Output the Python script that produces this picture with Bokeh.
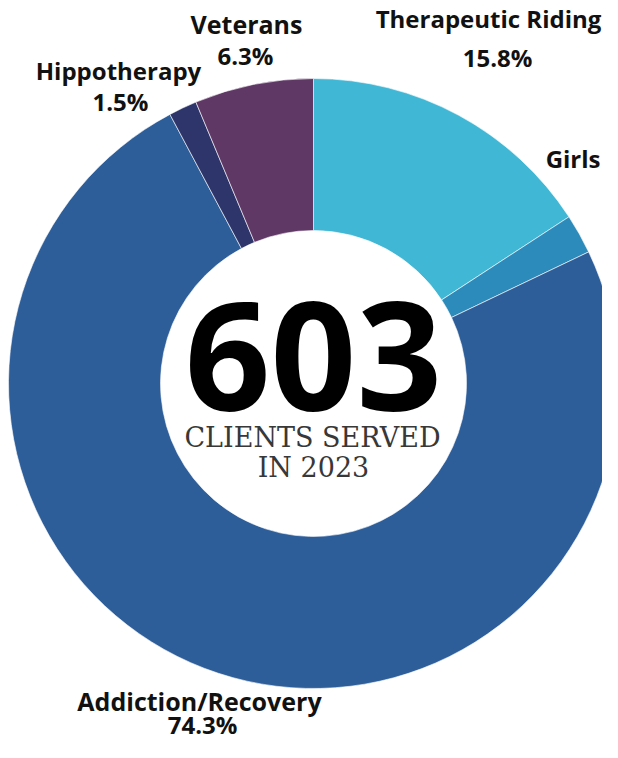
import math
from bokeh.plotting import figure
from bokeh.models import Range1d, ColumnDataSource
from bokeh.core.properties import value
from bokeh.embed import file_html
from bokeh.resources import INLINE

# ---- data ----
categories = ["Therapeutic Riding", "Girls", "Addiction/Recovery", "Hippotherapy", "Veterans"]
percents = [15.8, 2.1, 74.3, 1.5, 6.3]
total_clients = 603
year = 2023

palette = ["#41B7D6", "#2C8BBA", "#2E5E99", "#2D356B", "#5F3866"]

# ---- figure: data units == picture pixels (y negated) ----
W, H = 602, 742
p = figure(width=W, height=H, x_range=Range1d(0, W), y_range=Range1d(-H, 0),
           output_backend="svg", toolbar_location=None, min_border=0)
p.axis.visible = False
p.grid.visible = False
p.outline_line_color = None
p.background_fill_color = "white"
p.border_fill_color = "white"

cx, cy = 313, -383
r_out, r_in = 305, 153

total = sum(percents)
starts, ends = [], []
c0 = 0.0
for v in percents:
    c1 = c0 + v / total
    # clockwise from 12 o'clock
    starts.append(math.pi / 2 - 2 * math.pi * c1)
    ends.append(math.pi / 2 - 2 * math.pi * c0)
    c0 = c1

src = ColumnDataSource(dict(cat=categories, pct=percents, start=starts, end=ends, color=palette))
p.annular_wedge(x=cx, y=cy, inner_radius=r_in, outer_radius=r_out,
                start_angle="start", end_angle="end", color="color",
                line_color="white", line_width=0.6, source=src)

K = 0.36  # baseline compensation (fraction of font size)


def put(x, base, txt, size, font, style="bold", align="center", color="#111111"):
    p.text(x=[x], y=[-(base - K * size)], text=[txt], text_font=value(font),
           text_font_style=style, text_font_size=f"{size}px", text_align=align,
           text_baseline="alphabetic", text_color=color)


# ---- category labels: (x name, baseline name, size, x pct, baseline pct) ----
lab = {
    "Therapeutic Riding": (488, 27, 24, 497, 66),
    "Veterans": (246, 32, 25, 245, 64),
    "Hippotherapy": (118, 79, 24, 120, 110),
    "Addiction/Recovery": (199, 709, 25, 202, 733),
}
for c, v in zip(categories, percents):
    if c in lab:
        x1, b1, s, x2, b2 = lab[c]
        put(x1, b1, c, s, "Open Sans")
        put(x2, b2, f"{v:.1f}%", 24, "Open Sans")
# label at the right edge (kept fully inside the figure)
put(600, 167, categories[1], 24, "Open Sans", align="right")

# ---- centre text ----
put(cx, 410, str(total_clients), 150, "Open Sans", color="#000000")
put(cx - 1, 447, "CLIENTS SERVED", 27, "DejaVu Serif", style="normal", color="#383838")
put(cx, 477, f"IN {year}", 27, "DejaVu Serif", style="normal", color="#383838")

open("out.html", "w").write(file_html(p, INLINE))
